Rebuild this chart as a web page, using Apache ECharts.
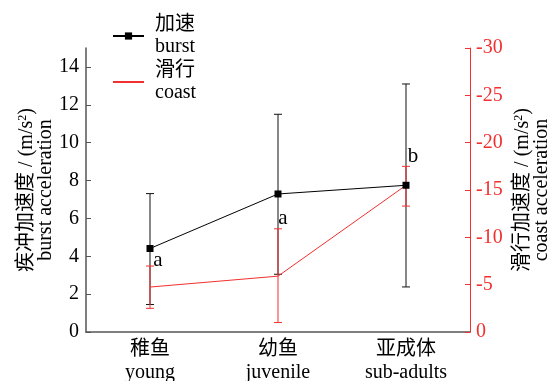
<!DOCTYPE html>
<html>
<head>
<meta charset="utf-8">
<script src="https://cdn.jsdelivr.net/npm/echarts@6/dist/echarts.min.js"></script>
<style>
  html, body { margin: 0; padding: 0; background: #fff; }
  #chart { width: 550px; height: 381px; }
</style>
</head>
<body>
<div id="chart"></div>
<script>
// Age classes
const categoriesZh = ['稚鱼', '幼鱼', '亚成体'];
const categoriesEn = ['young', 'juvenile', 'sub-adults'];

// Burst acceleration (m/s^2): mean and error range
const burstMean = [4.41, 7.29, 7.75];
const burstLow  = [1.45, 3.05, 2.38];
const burstHigh = [7.31, 11.5, 13.1];

// Coast acceleration (m/s^2): mean and error range (negative = deceleration)
const coastMean = [-4.75, -5.9, -15.5];
const coastLow  = [-2.5, -1.0, -13.3];
const coastHigh = [-6.97, -10.9, -17.5];

// Significance letters for burst acceleration
const sigLetters = ['a', 'a', 'b'];

// Tick labels
const leftTicks  = [0, 2, 4, 6, 8, 10, 12, 14];
const rightTicks = [-30, -25, -20, -15, -10, -5, 0];

const FONT = 'Times New Roman, Liberation Serif, Noto Sans CJK SC, serif';
const RED = '#f23030';
const AXIS_GRAY = '#555';

const chart = echarts.init(document.getElementById('chart'), null, { renderer: 'canvas' });

function errorBarSeries(low, high, color, yAxisIndex, capHalf) {
  return {
    type: 'custom',
    yAxisIndex: yAxisIndex,
    silent: true,
    z: 3,
    data: low.map((v, i) => [i, v, high[i]]),
    renderItem: function (params, api) {
      const lo = api.coord([api.value(0), api.value(1)]);
      const hi = api.coord([api.value(0), api.value(2)]);
      const x = lo[0];
      const style = { stroke: color, lineWidth: 1 };
      return {
        type: 'group',
        children: [
          { type: 'line', shape: { x1: x, y1: lo[1], x2: x, y2: hi[1] }, style: style },
          { type: 'line', shape: { x1: x - capHalf, y1: lo[1], x2: x + capHalf, y2: lo[1] }, style: style },
          { type: 'line', shape: { x1: x - capHalf, y1: hi[1], x2: x + capHalf, y2: hi[1] }, style: style }
        ]
      };
    }
  };
}

// Letter placement next to each burst marker
const letterOffsets = [[8, 12], [5, 25], [7, -29]];

const legendText = { burst: '加速\nburst', coast: '滑行\ncoast' };

const nameRich = {
  t: { fontFamily: FONT, fontSize: 20, color: '#000', lineHeight: 19 },
  s: { fontFamily: FONT, fontSize: 12, color: '#000', verticalAlign: 'top', lineHeight: 12 }
};

const option = {
  animation: false,
  backgroundColor: '#fff',
  textStyle: { fontFamily: FONT },
  grid: { left: 86, right: 80, top: 48, bottom: 49, containLabel: false, outerBoundsMode: 'none' },
  legend: {
    orient: 'vertical',
    left: 112,
    top: 14,
    padding: 0,
    itemGap: 2,
    itemWidth: 31,
    itemHeight: 9,
    data: [
      { name: 'burst' },
      { name: 'coast', itemStyle: { opacity: 0 } }
    ],
    formatter: name => legendText[name],
    textStyle: { fontFamily: FONT, fontSize: 20, color: '#000', lineHeight: 22, padding: [0, 0, 0, 6] }
  },
  xAxis: {
    type: 'category',
    data: categoriesZh.map((c, i) => c + '\n' + categoriesEn[i]),
    boundaryGap: true,
    axisLine: { lineStyle: { color: AXIS_GRAY, width: 1.5 } },
    axisTick: { inside: true, alignWithLabel: true, length: 5, lineStyle: { color: AXIS_GRAY } },
    axisLabel: { fontFamily: FONT, fontSize: 20, color: '#000', lineHeight: 23, margin: 6 },
    splitLine: { show: false }
  },
  yAxis: [
    {
      type: 'value',
      position: 'left',
      min: 0,
      max: 15,
      interval: 1,
      axisLine: { show: true, lineStyle: { color: AXIS_GRAY, width: 1.5 } },
      axisTick: { show: true, inside: true, length: 5, customValues: leftTicks, lineStyle: { color: AXIS_GRAY } },
      axisLabel: { fontFamily: FONT, fontSize: 20, color: '#000', margin: 7, customValues: leftTicks },
      splitLine: { show: false },
      nameLocation: 'middle',
      nameRotate: 90,
      nameMoveOverlap: false,
      nameGap: 31,
      name: '{t|疾冲加速度 / (m/s}{s|2}{t|)}\n{t|burst acceleration}',
      nameTextStyle: { color: '#000', lineHeight: 19, rich: nameRich }
    },
    {
      type: 'value',
      position: 'right',
      min: -30,
      max: 0,
      interval: 5,
      inverse: true,
      axisLine: { show: true, lineStyle: { color: RED, width: 1 } },
      axisTick: { show: true, inside: true, length: 5, customValues: rightTicks, lineStyle: { color: RED } },
      axisLabel: { fontFamily: FONT, fontSize: 20, color: RED, margin: 6, customValues: rightTicks },
      splitLine: { show: false },
      nameLocation: 'middle',
      nameRotate: 90,
      nameMoveOverlap: false,
      nameGap: 43,
      name: '{t|滑行加速度 / (m/s}{s|2}{t|)}\n{t|coast acceleration}',
      nameTextStyle: { color: '#000', lineHeight: 19, rich: nameRich }
    }
  ],
  series: [
    errorBarSeries(burstLow, burstHigh, '#111', 0, 4),
    errorBarSeries(coastLow, coastHigh, RED, 1, 4),
    {
      name: 'coast',
      type: 'line',
      yAxisIndex: 1,
      data: coastMean,
      symbol: 'none',
      z: 4,
      lineStyle: { color: RED, width: 1 },
      itemStyle: { color: RED }
    },
    {
      name: 'burst',
      type: 'line',
      yAxisIndex: 0,
      z: 5,
      symbol: 'rect',
      symbolSize: 7,
      lineStyle: { color: '#000', width: 1 },
      itemStyle: { color: '#000' },
      data: burstMean.map((v, i) => ({
        value: v,
        label: {
          show: true,
          formatter: sigLetters[i],
          position: 'inside',
          offset: letterOffsets[i],
          fontFamily: FONT,
          fontSize: 21,
          color: '#000'
        }
      }))
    }
  ]
};

chart.setOption(option);
</script>
</body>
</html>
